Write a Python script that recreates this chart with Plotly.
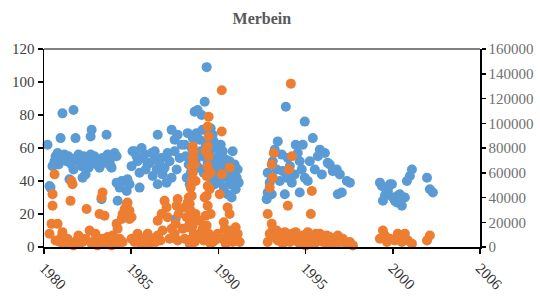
import plotly.graph_objects as go

# ---------------- data ----------------
x_tick_labels = ["1980", "1985", "1990", "1995", "2000", "2006"]
x_start, x_end = 1980.0, 2006.0
y_left_ticks = [0, 20, 40, 60, 80, 100, 120]
y_right_ticks = [0, 20000, 40000, 60000, 80000, 100000, 120000, 140000, 160000]

blue_year = [
    1980.21, 1980.33, 1980.39, 1980.51, 1980.63, 1980.69, 1980.81, 1980.87, 1980.99, 1981.10,
    1981.04, 1981.22, 1981.34, 1981.46, 1981.52, 1981.58, 1981.64, 1981.76, 1981.76, 1981.88,
    1981.94, 1982.06, 1982.12, 1982.24, 1982.30, 1982.36, 1982.42, 1982.48, 1982.60, 1982.66,
    1982.78, 1982.84, 1982.78, 1982.90, 1983.01, 1983.13, 1983.19, 1983.31, 1983.43, 1983.49,
    1983.61, 1983.73, 1983.79, 1983.91, 1983.97, 1984.03, 1984.09, 1984.21, 1984.33, 1984.33,
    1984.39, 1984.51, 1984.63, 1984.81, 1984.93, 1985.10, 1985.22, 1985.28,
    1985.40, 1986.00, 1986.42, 1987.01, 1987.31, 1985.70, 1986.18, 1986.72, 1987.19, 1984.98,
    1985.70, 1986.78, 1987.31, 1987.61, 1987.79, 1988.09, 1987.79, 1986.78, 1987.61, 1987.97,
    1988.21, 1985.58, 1985.88, 1986.30, 1986.60, 1986.90, 1987.49, 1987.91, 1987.85, 1986.48,
    1987.07, 1987.37, 1985.82, 1985.52, 1986.06, 1986.60,
    1988.57, 1989.10, 1989.28, 1988.98, 1989.16, 1989.40, 1989.58, 1989.70, 1988.81, 1988.45,
    1988.63, 1988.75, 1988.39, 1988.93, 1989.04, 1989.22, 1989.34, 1989.46, 1989.52, 1989.64,
    1989.76, 1989.88, 1989.94, 1990.06, 1990.00, 1990.12, 1990.18, 1990.24, 1990.30, 1990.36,
    1990.42, 1990.48, 1990.54, 1990.60, 1990.66, 1990.72, 1990.78, 1990.84, 1990.90, 1990.95,
    1991.01, 1991.07, 1991.13, 1991.19, 1991.25, 1991.31, 1991.37, 1991.43, 1991.49, 1991.55,
    1991.61, 1988.51, 1988.69, 1988.87, 1989.82, 1989.94, 1990.12, 1989.46,
    1994.42, 1995.55, 1993.94, 1995.01, 1995.43, 1996.03, 1993.76, 1994.18, 1994.54, 1995.13,
    1996.45, 1996.75, 1995.85, 1997.04, 1997.46, 1997.64, 1998.06, 1998.24, 1997.76, 1997.52,
    1993.46, 1993.58, 1995.25, 1994.36, 1994.78, 1995.73, 1996.57, 1994.95, 1993.88, 1993.34,
    1993.34, 1993.58, 1994.06, 1994.48, 1995.37, 1996.15, 1995.55, 1993.28, 1994.66, 1994.24,
    1996.33, 1996.92, 1997.22, 1993.64, 1995.25,
    2000.03, 2000.15, 2000.21, 2000.33, 2000.51, 2000.63, 2000.75, 2000.81, 2000.92, 2001.04,
    2001.22, 2001.34, 2001.52, 2001.64, 2001.82, 2001.94, 2002.84, 2003.01, 2003.19, 2000.39,
    2001.10,
]
blue_value = [
    62, 37, 36, 49, 52, 55, 57, 50, 66, 81,
    54, 56, 52, 55, 41, 53, 50, 47, 83, 66,
    54, 56, 52, 49, 42, 55, 51, 44, 53, 48,
    56, 71, 67, 52, 55, 50, 53, 48, 29, 54,
    51, 68, 56, 52, 49, 48, 55, 57, 55, 39,
    28, 36, 40, 40, 34, 38, 49, 58,
    58, 56, 57, 54, 55, 45, 50, 47, 48, 41,
    36, 38, 39, 42, 58, 54, 65, 68, 71, 68,
    62, 52, 54, 51, 53, 50, 52, 47, 17, 43,
    44, 57, 60, 55, 47, 58,
    69, 69, 65, 82, 83, 80, 88, 109, 60, 55,
    50, 45, 62, 57, 52, 48, 58, 55, 45, 62,
    51, 57, 47, 68, 42, 53, 38, 60, 49, 45,
    55, 40, 62, 50, 58, 36, 44, 53, 47, 32,
    41, 52, 38, 30, 58, 45, 50, 35, 42, 47,
    39, 42, 38, 66, 66, 72, 64, 71,
    85, 76, 64, 62, 62, 66, 59, 56, 54, 57,
    59, 57, 52, 50, 47, 44, 40, 39, 33, 32,
    39, 32, 33, 32, 39, 40, 44, 44, 47, 45,
    33, 42, 40, 42, 47, 47, 42, 29, 49, 46,
    55, 51, 46, 52, 52,
    39, 37, 28, 31, 34, 38, 38, 30, 28, 27,
    32, 25, 30, 40, 43, 47, 42, 35, 33, 35,
    31,
]

orange_year = [
    1980.63, 1980.51, 1980.51, 1980.45, 1980.81, 1980.33, 1981.64, 1981.70, 1981.58, 1982.54,
    1982.72, 1983.49, 1983.43, 1983.31, 1983.61, 1984.33, 1984.39, 1984.93, 1984.81, 1984.69,
    1984.63, 1985.10, 1980.69, 1980.93, 1981.04, 1981.22, 1981.40, 1981.52, 1981.76, 1981.94,
    1982.12, 1982.30, 1982.48, 1982.84, 1983.01, 1983.19, 1983.31, 1983.49, 1983.67, 1983.79,
    1983.91, 1984.03, 1984.21, 1984.39, 1984.51, 1984.69, 1981.10, 1982.06, 1983.07, 1984.09,
    1985.22, 1985.58, 1985.88, 1986.18, 1986.48, 1986.78, 1987.19, 1987.31, 1987.01, 1986.78,
    1987.37, 1987.61, 1987.79, 1987.97, 1987.07, 1984.98, 1985.10, 1985.22, 1985.40, 1985.76,
    1986.06, 1986.30, 1986.66, 1986.95, 1987.49, 1987.85, 1988.03, 1987.91,
    1988.39, 1988.57, 1988.51, 1988.27, 1988.69, 1988.39, 1987.97,
    1988.87, 1988.93, 1988.87, 1988.81, 1988.87, 1988.81, 1988.75, 1988.81, 1988.69, 1988.75,
    1988.81, 1988.87, 1988.93, 1988.81, 1988.98, 1988.69,
    1989.82, 1989.76, 1989.82, 1989.76, 1989.82, 1989.76, 1989.70, 1989.76, 1989.70, 1989.76,
    1989.64, 1989.70, 1989.82, 1989.88, 1989.52, 1989.94,
    1990.60, 1990.60, 1991.07, 1990.60, 1990.48, 1990.95, 1991.07, 1990.18, 1990.36, 1990.60,
    1990.78, 1990.95, 1991.19, 1991.37, 1991.55, 1989.10, 1989.28, 1989.46, 1989.28, 1990.06,
    1990.84, 1991.25, 1991.43, 1990.72, 1991.67,
    1988.63, 1989.04, 1988.57, 1989.04, 1988.98, 1989.58, 1989.94, 1989.94, 1989.64, 1989.88,
    1994.72, 1993.70, 1993.58, 1994.78, 1994.60, 1993.64, 1993.46, 1995.97, 1994.54, 1993.34,
    1995.91, 1993.58, 1993.64,
    1993.34, 1993.46, 1993.76, 1993.94, 1994.06, 1994.24, 1994.36, 1994.54, 1994.66, 1994.78,
    1994.95, 1995.13, 1995.25, 1995.43, 1995.55, 1995.73, 1995.85, 1995.97, 1996.15, 1996.33,
    1996.45, 1996.63, 1996.75, 1996.92, 1997.04, 1997.22, 1997.34, 1997.52, 1997.64, 1997.82,
    1998.00, 1998.24, 1998.42, 1993.88, 1995.01, 1994.18, 1995.61, 1996.21, 1996.87,
    2000.21, 2000.03, 2000.63, 2001.10, 2001.52, 2001.70, 2001.94, 2003.01, 2002.84, 2000.45,
    2000.92, 2000.33, 2001.22, 2001.34,
]
orange_flow = [
    58700, 42700, 33300, 18700, 18700, 10700, 53300, 50700, 37300, 30700,
    13300, 44000, 40000, 26700, 25300, 18700, 14700, 34700, 30700, 26700,
    22700, 22700, 5300, 4000, 8000, 2700, 6700, 4000, 1300, 5300,
    2700, 4000, 6700, 2700, 5300, 1300, 4000, 6700, 2700, 8000,
    4000, 1300, 5300, 2700, 6700, 4000, 12000, 9300, 10700, 9300,
    6700, 10700, 6700, 10700, 6700, 9300, 37300, 32000, 26700, 21300,
    24000, 14700, 10700, 5300, 13300, 36000, 29300, 24000, 4000, 2700,
    4000, 2700, 4000, 5300, 6700, 18700, 26700, 33300,
    32000, 36000, 24000, 14700, 18700, 6700, 38700,
    81300, 77300, 72000, 65300, 60000, 53300, 48000, 41300, 34700, 29300,
    22700, 17300, 10700, 6700, 4000, 2700,
    105300, 97300, 89300, 81300, 73300, 65300, 57300, 49300, 41300, 33300,
    25300, 17300, 10700, 5300, 5300, 2700,
    126700, 93300, 64000, 58700, 42700, 32000, 26700, 5300, 10700, 6700,
    14700, 9300, 13300, 6700, 10700, 6700, 10700, 14700, 21300, 4000,
    2700, 4000, 16000, 20000, 4000,
    40000, 26700, 16000, 53300, 66700, 40000, 26700, 60000, 77300, 46700,
    132000, 76000, 66700, 73300, 62700, 56000, 48000, 45300, 33300, 26700,
    26700, 18700, 13300,
    4000, 10700, 8000, 5300, 9300, 2700, 12000, 6700, 4000, 10700,
    5300, 8000, 2700, 9300, 5300, 12000, 4000, 8000, 2700, 6700,
    10700, 4000, 6700, 2700, 8000, 5300, 2700, 9300, 4000, 6700,
    2700, 4000, 1300, 13300, 12000, 6700, 1300, 10700, 9300,
    13300, 6700, 6700, 10700, 10700, 5300, 2700, 9300, 5300, 4000,
    5300, 9300, 8000, 4000,
]

# ---------------- figure ----------------
BLUE = "#5B9BD5"
ORANGE = "#ED7D31"
FONT = "Liberation Serif"

x_tick_vals = [x_start + i * (x_end - x_start) / (len(x_tick_labels) - 1)
               for i in range(len(x_tick_labels))]

fig = go.Figure()
fig.add_trace(go.Scatter(
    x=blue_year, y=blue_value, mode="markers", yaxis="y",
    marker=dict(color=BLUE, size=10, line=dict(width=0)),
    cliponaxis=False, hoverinfo="skip"))
fig.add_trace(go.Scatter(
    x=orange_year, y=orange_flow, mode="markers", yaxis="y2",
    marker=dict(color=ORANGE, size=10, line=dict(width=0)),
    cliponaxis=False, hoverinfo="skip"))

fig.update_layout(
    width=540, height=300,
    margin=dict(l=44, r=60, t=49, b=53, autoexpand=False),
    paper_bgcolor="white", plot_bgcolor="white",
    showlegend=False,
    font=dict(family=FONT, size=15, color="#404040"),
    title=dict(text="<b>Merbein</b>", x=0.485, xanchor="center",
               y=0.94, yanchor="middle", yref="container",
               font=dict(family=FONT, size=16, color="#595959")),
    xaxis=dict(range=[x_start, x_end], tickvals=x_tick_vals, ticktext=x_tick_labels,
               tickangle=45, ticks="outside", ticklen=5, tickwidth=1.5, tickcolor="black",
               showline=True, linecolor="black", linewidth=1.5,
               showgrid=False, zeroline=False, automargin=False,
               tickfont=dict(family=FONT, size=15, color="#303030")),
    yaxis=dict(range=[0, 120], tickvals=y_left_ticks,
               ticks="outside", ticklen=5, tickwidth=1.5, tickcolor="black",
               showline=True, linecolor="black", linewidth=1.5,
               showgrid=False, zeroline=False, automargin=False,
               tickfont=dict(family=FONT, size=15, color="#404040")),
    yaxis2=dict(range=[0, 160000], tickvals=y_right_ticks, tickformat="d",
                overlaying="y", side="right",
                ticks="outside", ticklen=4, tickwidth=1.5, tickcolor="black",
                showline=True, linecolor="black", linewidth=1.5,
                showgrid=False, zeroline=False, automargin=False,
                tickfont=dict(family=FONT, size=15, color="#707070")),
    shapes=[dict(type="line", xref="paper", yref="paper", x0=0, x1=1, y0=1, y1=1,
                 line=dict(color="#595959", width=1.5))],
)

fig.write_html("out.html",
               config={"displayModeBar": False, "staticPlot": True},
               post_script="document.body.style.margin='0px';document.body.style.padding='0px';")
